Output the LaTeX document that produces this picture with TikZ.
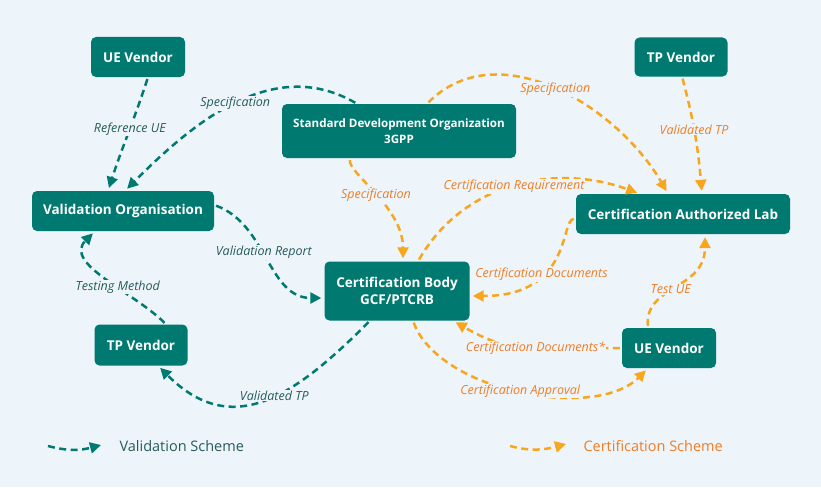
\documentclass[tikz,border=0pt]{standalone}
\usepackage{fontspec}
\setmainfont{Open Sans}
\usetikzlibrary{arrows.meta}
\definecolor{schbg}{RGB}{237, 244, 250}
\definecolor{schteal}{RGB}{0, 122, 112}
\definecolor{schtealtxt}{RGB}{38, 92, 88}
\definecolor{schorange}{RGB}{247, 166, 30}
\definecolor{schorangetxt}{RGB}{240, 125, 35}

\begin{document}
\begin{tikzpicture}[x=1pt, y=-1pt,
    box/.style={fill=schteal, rounded corners=5pt, text=white, align=center,
        inner sep=0pt, font=\bfseries\fontsize{13.5}{17}\selectfont},
    vflow/.style={draw=schteal, line width=2.5pt, dash pattern=on 7pt off 4.5pt,
        shorten >=3pt, shorten <=2pt, -{Triangle[length=11pt, width=11pt]}},
    cflow/.style={vflow, draw=schorange},
    vlbl/.style={font=\itshape\fontsize{12.5}{14}\selectfont, text=schtealtxt,
        fill=schbg, inner sep=1pt},
    clbl/.style={vlbl, text=schorangetxt}]

% fondo
\fill[schbg] (0,0) rectangle (821,487);

% === Nodos ===
\node[box, minimum width=94pt, minimum height=40pt] (uevl) at (138,57) {UE Vendor};
\node[box, minimum width=182pt, minimum height=40pt] (vo) at (123,211) {Validation Organisation};
\node[box, minimum width=234pt, minimum height=54pt,
    font=\bfseries\fontsize{11.6}{16}\selectfont] (sdo) at (399,131)
    {Standard Development Organization\\3GPP};
\node[box, minimum width=93pt, minimum height=39pt] (tpvr) at (681,57) {TP Vendor};
\node[box, minimum width=214pt, minimum height=40pt] (cal) at (683,214) {Certification Authorized Lab};
\node[box, minimum width=145pt, minimum height=59pt] (cb) at (397,291) {Certification Body\\GCF/PTCRB};
\node[box, minimum width=93pt, minimum height=41pt] (tpvl) at (141,345) {TP Vendor};
\node[box, minimum width=94pt, minimum height=40pt] (uevr) at (669,348) {UE Vendor};

% === Esquema de validacion ===
\draw[vflow] ([xshift=10pt]uevl.south) to[out=252, in=72]
    node[vlbl, pos=0.45] {Reference UE} ([xshift=-15pt]vo.north);
\draw[vflow] ([xshift=-42pt]sdo.north) to[out=150, in=45]
    node[vlbl] {Specification} ([xshift=2pt]vo.north);
\draw[vflow] ([yshift=6pt]vo.east) to[out=-20, in=180]
    node[vlbl, pos=0.45] {Validation Report} ([yshift=-7pt]cb.west);
\draw[vflow] ([xshift=25pt]tpvl.north) to[out=135, in=225]
    node[vlbl, pos=0.4] {Testing Method} ([xshift=-28pt]vo.south);
\draw[vflow] ([xshift=-27pt]cb.south) to[out=225, in=-45, looseness=1.25]
    node[vlbl, pos=0.45] {Validated TP} ([xshift=17pt]tpvl.south);

% === Esquema de certificacion ===
\draw[cflow] ([xshift=-49pt]sdo.south) to[out=265, in=90, out looseness=0.35, in looseness=1.2]
    node[clbl, pos=0.5] {Specification} ([xshift=6pt]cb.north);
\draw[cflow] ([xshift=28pt]sdo.north) to[out=45, in=120]
    node[clbl] {Specification} ([xshift=-15pt]cal.north);
\draw[cflow] ([xshift=1pt]tpvr.south) to[out=-75, in=95]
    node[clbl, pos=0.45] {Validated TP} ([xshift=19pt]cal.north);
\draw[cflow] ([xshift=21pt]cb.north) to[out=60, in=160]
    node[clbl, pos=0.5] {Certification Requirement} ([xshift=-43pt]cal.north);
\draw[cflow] ([yshift=-5pt]cal.west) to[out=180, in=0, out looseness=0.3, in looseness=2]
    node[clbl, pos=0.65] {Certification Documents} ([yshift=-5pt]cb.east);
\draw[cflow] ([xshift=-21pt]uevr.north) to[out=95, in=270, in looseness=1.3]
    node[clbl, pos=0.45] {Test UE} ([xshift=22pt]cal.south);
\draw[cflow] (uevr.west) to[out=180, in=-30, out looseness=1.4]
    node[clbl, pos=0.42] {Certification Documents*} ([xshift=56pt]cb.south);
\draw[cflow] ([xshift=16pt]cb.south) to[out=-70, in=225, looseness=0.8]
    node[clbl] {Certification Approval} ([xshift=-21pt]uevr.south);

% === Leyenda ===
\coordinate (vleg1) at (48,446);
\coordinate (vleg2) at (101,445);
\draw[vflow, shorten >=0pt, shorten <=0pt] (vleg1) to[out=-15, in=195] (vleg2);
\node[anchor=west, text=schtealtxt, font=\fontsize{14.5}{16}\selectfont] (vlegt) at (116,446) {Validation Scheme};
\coordinate (cleg1) at (510,446);
\coordinate (cleg2) at (566,444);
\draw[cflow, shorten >=0pt, shorten <=0pt] (cleg1) to[out=-15, in=195] (cleg2);
\node[anchor=west, text=schorangetxt, font=\fontsize{14.5}{16}\selectfont] (clegt) at (580,446) {Certification Scheme};

\end{tikzpicture}
\end{document}
